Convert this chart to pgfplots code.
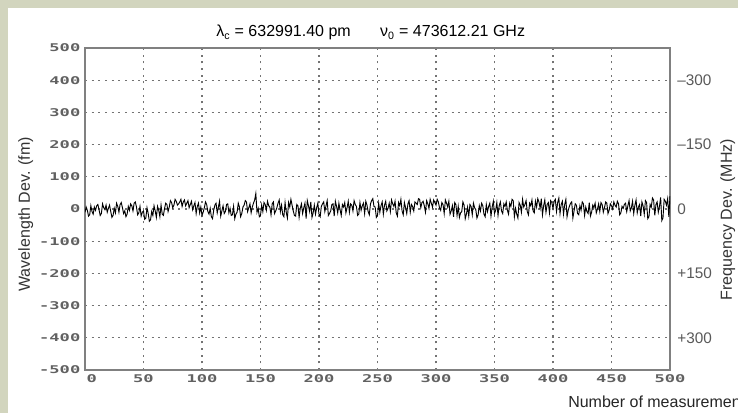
\documentclass[border=0pt]{standalone}
\usepackage{fontspec}
\setmainfont{Liberation Sans}
\newfontfamily\tickfont[FakeStretch=1.6]{DejaVu Sans Mono}
\usepackage{pgfplots}
\pgfplotsset{compat=1.18}
\definecolor{panelbg}{RGB}{210,213,190}
\definecolor{axgray}{RGB}{128,128,128}

\begin{document}
\begin{tikzpicture}[x=1pt,y=1pt]
\useasboundingbox (0,0) rectangle (553.5,309.75);
\clip (0,0) rectangle (553.5,309.75);
\fill[panelbg] (0,0) rectangle (553.5,309.75);
\fill[white] (6,0) rectangle (553.5,303.75);

% main axis: wavelength deviation
\begin{axis}[
  at={(63.75pt,32.25pt)}, anchor=south west,
  scale only axis, width=438.75pt, height=241.5pt,
  xmin=0, xmax=500, ymin=-500, ymax=500,
  xtick={0,50,...,500},
  ytick={-500,-400,...,500},
  xticklabels={\hspace*{10pt}0,50,100,150,200,250,300,350,400,450,500},
  yticklabels={-500,-400,-300,-200,-100,0,100,200,300,400,500},
  major tick length=0pt,
  grid=major,
  major grid style={black!55, line width=0.9pt, dash pattern=on 1.4pt off 3.6pt},
  axis line style={axgray, line width=1.6pt},
  tick label style={font=\tickfont\bfseries\fontsize{8}{8}\selectfont, text=black!62},
]
\addplot[black, line width=0.7pt] coordinates {
(0,-10)(1,6)(2,-4)(3,-22)(4,-18)(5,10)(6,-8)(7,-16)(8,6)(9,-4)(10,10)(11,14)(12,-2)(13,-20)(14,-14)(15,16)(16,4)(17,-2)(18,12)(19,-10)
(20,2)(21,12)(22,-8)(23,-26)(24,-20)(25,2)(26,-12)(27,18)(28,8)(29,-10)(30,14)(31,20)(32,4)(33,-14)(34,-6)(35,-24)(36,-16)(37,8)(38,-4)(39,16)
(40,10)(41,-6)(42,18)(43,22)(44,6)(45,-18)(46,-12)(47,8)(48,-22)(49,-10)(50,-6)(51,-32)(52,-28)(53,4)(54,-14)(55,-38)(56,-34)(57,-8)(58,-20)(59,10)
(60,-6)(61,-26)(62,8)(63,-4)(64,-24)(65,12)(66,-16)(67,-20)(68,2)(69,18)(70,14)(71,-8)(72,6)(73,26)(74,20)(75,4)(76,12)(77,30)(78,24)(79,12)
(80,16)(81,22)(82,30)(83,8)(84,22)(85,28)(86,10)(87,18)(88,26)(89,4)(90,14)(91,24)(92,-2)(93,10)(94,20)(95,-14)(96,8)(97,18)(98,-12)(99,6)
(100,-20)(101,-10)(102,4)(103,22)(104,14)(105,-8)(106,-16)(107,2)(108,-24)(109,-30)(110,-4)(111,12)(112,18)(113,-12)(114,6)(115,24)(116,-22)(117,-6)(118,10)(119,-14)
(120,-8)(121,14)(122,16)(123,-12)(124,2)(125,-20)(126,-18)(127,8)(128,-30)(129,-16)(130,-10)(131,18)(132,6)(133,-24)(134,-14)(135,6)(136,12)(137,26)(138,22)(139,-8)
(140,4)(141,16)(142,-12)(143,6)(144,18)(145,28)(146,48)(147,-10)(148,2)(149,-24)(150,-20)(151,12)(152,-8)(153,20)(154,14)(155,-4)(156,24)(157,10)(158,6)(159,-18)
(160,16)(161,22)(162,-14)(163,-6)(164,4)(165,18)(166,28)(167,-8)(168,12)(169,-18)(170,-24)(171,20)(172,-10)(173,-28)(174,20)(175,6)(176,30)(177,12)(178,-6)(179,-20)
(180,-22)(181,14)(182,10)(183,-26)(184,2)(185,16)(186,-14)(187,4)(188,18)(189,-30)(190,26)(191,10)(192,-8)(193,22)(194,-26)(195,-12)(196,12)(197,-16)(198,4)(199,18)
(200,-16)(201,-24)(202,8)(203,16)(204,22)(205,-8)(206,10)(207,26)(208,-20)(209,-14)(210,-6)(211,14)(212,16)(213,-22)(214,24)(215,8)(216,-12)(217,18)(218,-2)(219,-20)
(220,14)(221,6)(222,20)(223,-12)(224,4)(225,24)(226,-10)(227,16)(228,12)(229,-6)(230,26)(231,14)(232,8)(233,-20)(234,-16)(235,20)(236,-4)(237,10)(238,18)(239,-14)
(240,24)(241,12)(242,-8)(243,-18)(244,16)(245,26)(246,32)(247,8)(248,6)(249,-26)(250,-20)(251,18)(252,-10)(253,10)(254,22)(255,-16)(256,12)(257,24)(258,-6)(259,2)
(260,18)(261,-8)(262,28)(263,16)(264,8)(265,24)(266,-12)(267,-22)(268,20)(269,10)(270,30)(271,-6)(272,-18)(273,20)(274,4)(275,-14)(276,16)(277,26)(278,-10)(279,14)
(280,8)(281,-6)(282,22)(283,18)(284,14)(285,32)(286,30)(287,4)(288,20)(289,24)(290,10)(291,-10)(292,26)(293,16)(294,2)(295,30)(296,18)(297,6)(298,28)(299,20)
(300,12)(301,30)(302,22)(303,4)(304,-4)(305,20)(306,14)(307,-14)(308,28)(309,18)(310,6)(311,24)(312,-16)(313,-6)(314,10)(315,-24)(316,20)(317,14)(318,-20)(319,8)
(320,-26)(321,-12)(322,-8)(323,22)(324,12)(325,-30)(326,-16)(327,6)(328,-22)(329,14)(330,8)(331,-18)(332,18)(333,4)(334,-2)(335,-28)(336,-18)(337,10)(338,-6)(339,18)
(340,10)(341,-16)(342,-24)(343,14)(344,-8)(345,8)(346,18)(347,-22)(348,6)(349,24)(350,-14)(351,-4)(352,20)(353,-20)(354,10)(355,22)(356,-6)(357,-14)(358,16)(359,8)
(360,22)(361,-4)(362,-16)(363,18)(364,8)(365,30)(366,26)(367,-24)(368,2)(369,-16)(370,-28)(371,20)(372,12)(373,-10)(374,30)(375,6)(376,14)(377,26)(378,-8)(379,-18)
(380,18)(381,10)(382,28)(383,-6)(384,-12)(385,24)(386,6)(387,32)(388,22)(389,2)(390,32)(391,-18)(392,10)(393,28)(394,-10)(395,14)(396,20)(397,-12)(398,26)(399,20)
(400,2)(401,24)(402,30)(403,-8)(404,20)(405,34)(406,-14)(407,14)(408,24)(409,-16)(410,14)(411,30)(412,-24)(413,-4)(414,8)(415,18)(416,22)(417,-28)(418,-6)(419,16)
(420,12)(421,-14)(422,-18)(423,10)(424,-4)(425,22)(426,16)(427,-20)(428,6)(429,-8)(430,-14)(431,20)(432,-22)(433,-10)(434,12)(435,4)(436,18)(437,-12)(438,0)(439,16)
(440,-8)(441,20)(442,14)(443,-10)(444,4)(445,22)(446,18)(447,-14)(448,-4)(449,16)(450,10)(451,0)(452,22)(453,12)(454,6)(455,24)(456,16)(457,-18)(458,-12)(459,8)
(460,2)(461,14)(462,18)(463,-8)(464,10)(465,26)(466,-6)(467,4)(468,24)(469,-14)(470,12)(471,28)(472,-12)(473,6)(474,14)(475,-22)(476,22)(477,10)(478,-16)(479,26)
(480,20)(481,-30)(482,-24)(483,14)(484,6)(485,34)(486,28)(487,-20)(488,14)(489,22)(490,-10)(491,8)(492,36)(493,-36)(494,-28)(495,30)(496,24)(497,12)(498,32)(499,-24)(500,40)
};
\end{axis}

% right axis: frequency deviation
\begin{axis}[
  at={(63.75pt,32.25pt)}, anchor=south west,
  scale only axis, width=438.75pt, height=241.5pt,
  xmin=0, xmax=500, ymin=-375, ymax=375, y dir=reverse,
  hide x axis, axis y line*=right,
  axis line style={draw=none},
  ytick={-300,-150,0,150,300},
  yticklabels={–300,–150,0,+150,+300},
  major tick length=0pt,
  yticklabel style={font=\fontsize{11.5}{12}\selectfont, text=black!65, xshift=2pt},
]
\end{axis}

\node[anchor=base, font=\fontsize{12}{14}\selectfont] at (278,282)
  {λ\textsubscript{c} = 632991.40 pm\hspace{22pt}ν\textsubscript{0} = 473612.21 GHz};
\node[rotate=90, anchor=north, inner sep=0pt, font=\fontsize{12}{14}\selectfont, text=black!80]
  at (13.5,149) {Wavelength Dev. (fm)};
\node[rotate=90, anchor=north, inner sep=0pt, font=\fontsize{12}{14}\selectfont, text=black!80]
  at (540,145) {Frequency Dev. (MHz)};
\node[anchor=base west, inner sep=0pt, font=\fontsize{12}{14}\selectfont, text=black!85]
  at (426,3.75) {Number of measurements};
\end{tikzpicture}
\end{document}
